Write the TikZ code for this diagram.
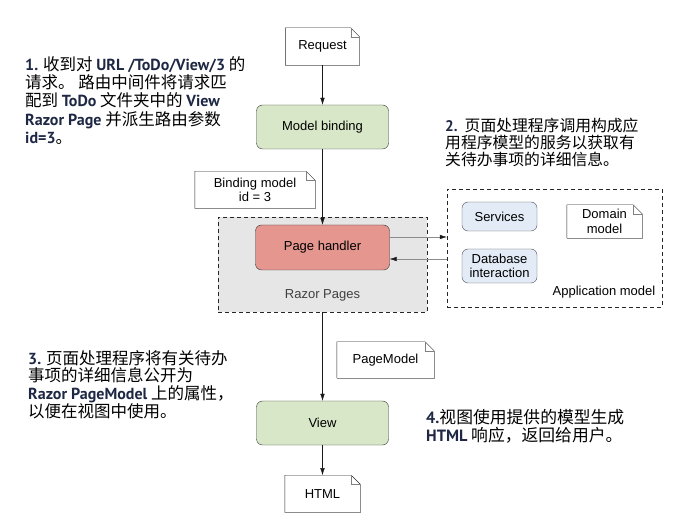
\documentclass[tikz,border=0pt]{standalone}
\usepackage{fontspec}
\setmainfont{Liberation Sans}
\newfontfamily\cjk{Noto Sans CJK SC}
\newfontfamily\kwfont[Scale=0.97]{PT Sans}
\usetikzlibrary{positioning, arrows.meta}
\definecolor{procgreen}{HTML}{D7E7C7}
\definecolor{handlerred}{HTML}{E4968F}
\definecolor{regiongray}{HTML}{E6E6E6}
\definecolor{svcblue}{HTML}{E2EBF6}
\definecolor{notenavy}{HTML}{1E2845}
\newcommand{\kw}[1]{{\kwfont\bfseries\color{notenavy}#1}}

\begin{document}
\begin{tikzpicture}[x=1pt, y=-1pt,
  font=\fontsize{13}{14.5}\selectfont,
  proc/.style={draw=black!80, rounded corners=6pt, fill=procgreen, minimum width=132pt, minimum height=44pt},
  handler/.style={proc, fill=handlerred, minimum width=134pt, minimum height=45pt},
  svc/.style={draw=black!70, rounded corners=6pt, fill=svcblue, minimum width=75pt, align=center, inner sep=1pt},
  region/.style={draw=black!85, dash pattern=on 4pt off 3pt},
  doc/.style={align=center, inner sep=2pt, minimum height=37pt,
    append after command={\pgfextra{\let\dn\tikzlastnode
      \draw[black!85] (\dn.south west) -- (\dn.north west) -- ([xshift=-9pt]\dn.north east)
        -- ([yshift=-9pt]\dn.north east);
      \draw[black!45, line width=1pt] ([yshift=-9pt]\dn.north east) -- (\dn.south east) -- (\dn.south west);
      \draw[black!50] ([xshift=-9pt]\dn.north east) |- ([yshift=-9pt]\dn.north east);}}},
  a/.style={-{Latex[length=7pt,width=4.5pt]}, black!90},
  side/.style={-{Latex[length=7pt,width=4.5pt,color=black!90]}, black!45},
  note/.style={anchor=north west, align=left, inner sep=0pt, font=\cjk\fontsize{16.5}{18.3}\selectfont}
]
\useasboundingbox (0,0) rectangle (688,526);

% main request path
\node[doc, minimum width=74pt] (req) at (322.5,46.5) {Request};
\node[proc] (bind) at (322.5,127) {Model binding};
\node[doc, minimum width=120pt] (bm) at (255,190) {Binding model\\id = 3};
\node[region, fill=regiongray, minimum width=209pt, minimum height=95pt] (razor) at (322.5,264.5) {};
\node[handler] (ph) at (322.5,247.5) {Page handler};
\node[text=black!75] (razorlbl) at (322.5,295) {Razor Pages};

% application model
\node[region, minimum width=215pt, minimum height=118pt] (app) at (554.5,248) {};
\node[svc, minimum height=29pt] (svc) at (499.5,216.5) {Services};
\node[svc, minimum height=34pt] (db) at (499.5,266) {Database\\interaction};
\node[doc, minimum width=75pt, minimum height=33pt] (dom) at (604.5,221.5) {Domain\\model};
\node (applbl) at (604,292) {Application model};

% output
\node[doc, minimum width=97pt, minimum height=36pt] (pm) at (385.5,360) {PageModel};
\node[proc] (view) at (322.5,423) {View};
\node[doc, minimum width=75pt, below=30pt of view] (html) {HTML};

\draw[a] (req) -- (bind);
\draw[a] (bind) -- (ph);
\draw[a] (razor.south) -- (view.north);
\draw[a] (view) -- (html);
\draw[side] ([yshift=10.5pt]ph.east) -- ([yshift=10.5pt]ph.east -| app.west);
\draw[side] ([yshift=-11.5pt]ph.east -| app.west) -- ([yshift=-11.5pt]ph.east);

% notes
\node[note] (n1) at (25,56) {\kw{1.} 收到对 \kw{URL /ToDo/View/3} 的\\请求。 路由中间件将请求匹\\配到 \kw{ToDo} 文件夹中的 \kw{View}\\\kw{Razor Page} 并派生路由参数\\\kw{id=3}。};
\node[note, font=\cjk\fontsize{15.8}{16.8}\selectfont] (n2) at (445,118) {\kw{2.}\ \ 页面处理程序调用构成应\\用程序模型的服务以获取有\\关待办事项的详细信息。};
\node[note, font=\cjk\fontsize{16.5}{17.7}\selectfont] (n3) at (28,350) {\kw{3.} 页面处理程序将有关待办\\事项的详细信息公开为\\\kw{Razor PageModel} 上的属性，\\以便在视图中使用。};
\node[note, font=\cjk\fontsize{16.8}{18}\selectfont] (n4) at (426,409) {\kw{4.}视图使用提供的模型生成\\\kw{HTML} 响应，返回给用户。};
\end{tikzpicture}
\end{document}
